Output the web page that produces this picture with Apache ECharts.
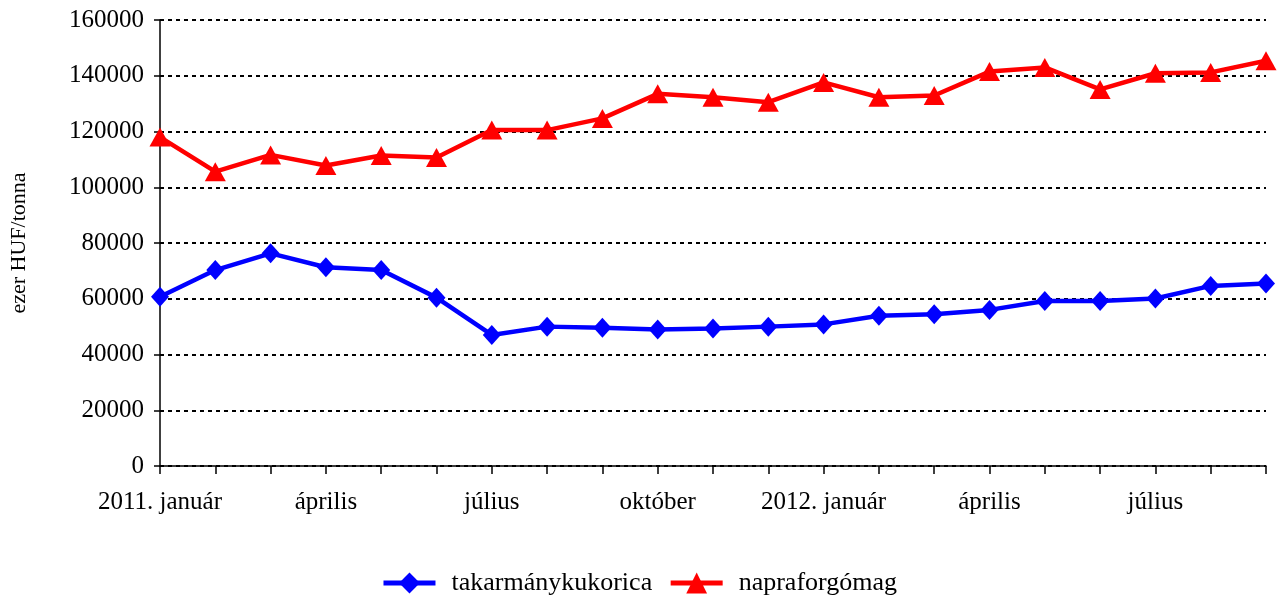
<!DOCTYPE html>
<html>
<head>
<meta charset="utf-8">
<script src="https://cdn.jsdelivr.net/npm/echarts@6/dist/echarts.min.js"></script>
<style>html,body{margin:0;padding:0;background:#fff;}#c{width:1278px;height:597px;}</style>
</head>
<body>
<div id="c"></div>
<script>
var categories = ['2011. január','február','március','április','május','június','július','augusztus','szeptember','október','november','december','2012. január','február','március','április','május','június','július','augusztus','szeptember'];
var kukorica = [60700, 70300, 76300, 71300, 70300, 60400, 47000, 50000, 49600, 49000, 49300, 50000, 50800, 53900, 54400, 56000, 59200, 59200, 60100, 64600, 65500];
var napraforgo = [118000, 105600, 111600, 107800, 111400, 110700, 120500, 120500, 124700, 133500, 132300, 130500, 137600, 132300, 132900, 141500, 143000, 135100, 140900, 141200, 145400];
var yTicks = [0, 20000, 40000, 60000, 80000, 100000, 120000, 140000, 160000];
var seriesNames = ['takarmánykukorica', 'napraforgómag'];

var font = 'Liberation Serif';
var chart = echarts.init(document.getElementById('c'), null, {renderer: 'canvas'});
chart.setOption({
  animation: false,
  backgroundColor: '#fff',
  textStyle: {fontFamily: font, color: '#000'},
  grid: {left: 160, right: 12, top: 20, bottom: 131, containLabel: false},
  legend: {
    top: 570, left: 'center', padding: 0,
    itemWidth: 52, itemHeight: 26, itemGap: 16,
    lineStyle: {width: 5},
    textStyle: {fontFamily: font, fontSize: 26, color: '#000', padding: [0, 0, 0, 11]},
    data: seriesNames
  },
  xAxis: {
    type: 'category', data: categories, boundaryGap: false,
    axisLine: {lineStyle: {color: '#000', width: 1.5}},
    axisTick: {show: true, interval: 0, length: 8, lineStyle: {color: '#000', width: 1.5}},
    axisLabel: {interval: 2, fontFamily: font, fontSize: 25, color: '#000', margin: 24},
    splitLine: {show: false}
  },
  yAxis: {
    type: 'value', min: yTicks[0], max: yTicks[yTicks.length - 1], interval: yTicks[1] - yTicks[0],
    name: 'ezer HUF/tonna', nameLocation: 'middle', nameGap: 130, nameRotate: 90,
    nameTextStyle: {fontFamily: font, fontSize: 22, color: '#000'},
    axisLine: {show: true, lineStyle: {color: '#000', width: 1.5}},
    axisTick: {show: true, length: 6, lineStyle: {color: '#000', width: 1.5}},
    axisLabel: {fontFamily: font, fontSize: 25, color: '#000', margin: 16, formatter: function (v) { return String(v); }},
    splitLine: {show: true, lineStyle: {color: '#000', type: [4, 4], width: 2}}
  },
  series: [
    {
      name: seriesNames[0], type: 'line', data: kukorica, clip: false,
      symbol: 'diamond', symbolSize: [18, 20],
      lineStyle: {color: '#0000ff', width: 4.5},
      itemStyle: {color: '#0000ff'}
    },
    {
      name: seriesNames[1], type: 'line', data: napraforgo, clip: false,
      symbol: 'triangle', symbolSize: [21, 19],
      lineStyle: {color: '#ff0000', width: 4.5},
      itemStyle: {color: '#ff0000'}
    }
  ]
});
</script>
</body>
</html>
